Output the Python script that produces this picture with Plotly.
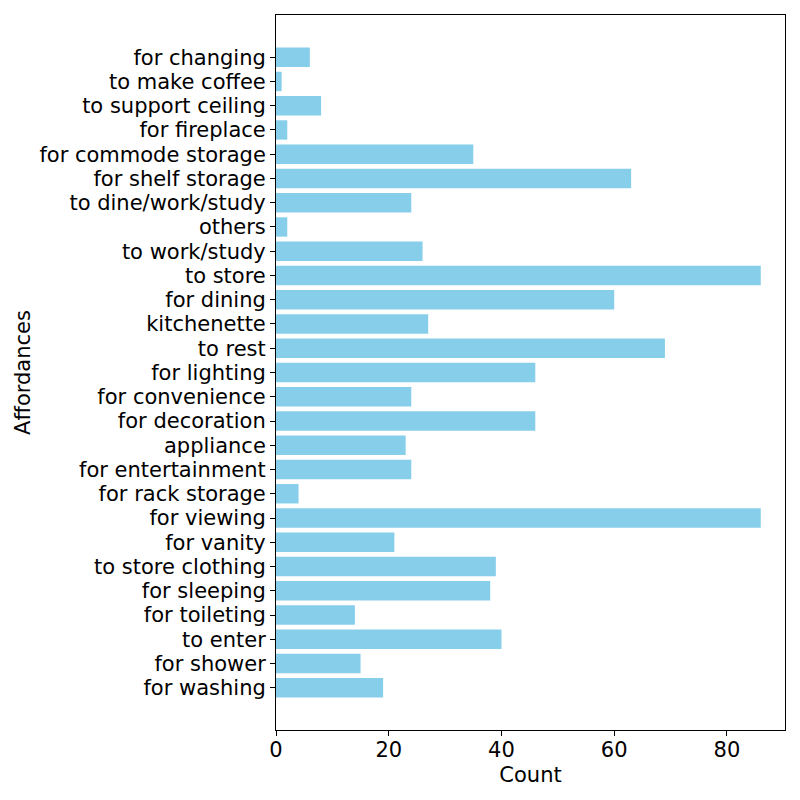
import plotly.graph_objects as go

categories = ["for washing", "for shower", "to enter", "for toileting", "for sleeping",
              "to store clothing", "for vanity", "for viewing", "for rack storage",
              "for entertainment", "appliance", "for decoration", "for convenience",
              "for lighting", "to rest", "kitchenette", "for dining", "to store",
              "to work/study", "others", "to dine/work/study", "for shelf storage",
              "for commode storage", "for fireplace", "to support ceiling",
              "to make coffee", "for changing"]
counts = [19, 15, 40, 14, 38, 39, 21, 86, 4, 24, 23, 46, 24, 46, 69, 27, 60, 86,
          26, 2, 24, 63, 35, 2, 8, 1, 6]

fig = go.Figure(go.Bar(x=counts, y=categories, orientation="h",
                       marker=dict(color="#87CEEB", line=dict(width=0)), width=0.8))

axis_common = dict(showline=True, linecolor="black", linewidth=1, mirror=True,
                   ticks="outside", ticklen=5, tickcolor="black", showgrid=False,
                   zeroline=False, tickfont=dict(size=21, color="black"))

fig.update_layout(
    width=800, height=800,
    margin=dict(l=268, r=23, t=7, b=78),
    plot_bgcolor="white", paper_bgcolor="white",
    font=dict(family="DejaVu Sans", size=21, color="black"),
    showlegend=False,
    xaxis=dict(range=[0, 90.3], tickvals=[0, 20, 40, 60, 80], ticklabelstandoff=-4,
               title=dict(text="Count", font=dict(size=21), standoff=6), **axis_common),
    yaxis=dict(range=[-1.74, 27.74], categoryorder="array", categoryarray=categories,
               tickmode="array", tickvals=categories, ticktext=categories,
               title=dict(text="Affordances", font=dict(size=21), standoff=3), **axis_common),
)

fig.write_html("out.html")
